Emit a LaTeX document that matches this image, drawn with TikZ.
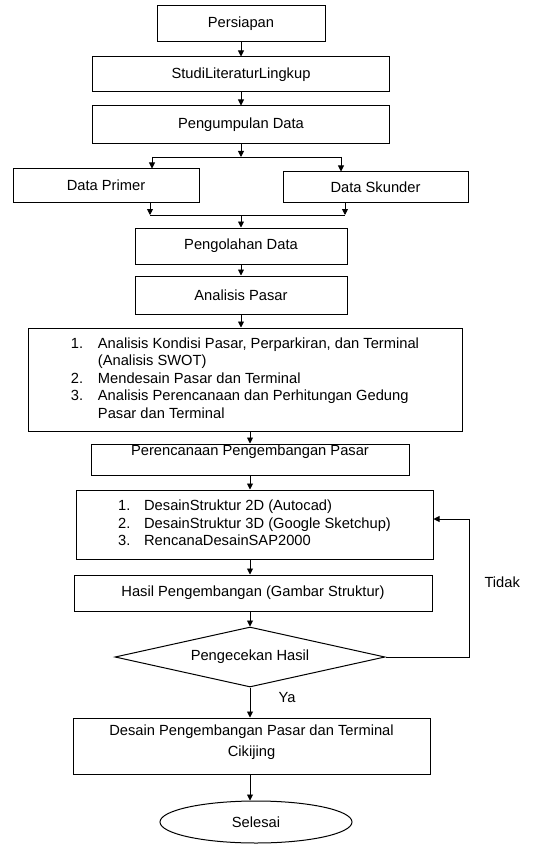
\documentclass[tikz,border=0pt]{standalone}
\usepackage{fontspec}
\setmainfont{Liberation Sans}
\usetikzlibrary{arrows.meta,shapes.geometric}

\begin{document}
\begin{tikzpicture}[
  x=1pt,y=-1pt,
  >={Triangle[length=6pt,width=6pt]},
  every node/.style={font=\fontsize{14.7}{17.5}\selectfont},
  block/.style={draw,line width=1pt,inner sep=0pt,align=center},
  decision/.style={draw,diamond,line width=1pt,inner sep=0pt,aspect=4.5},
  terminator/.style={draw,ellipse,line width=1pt,inner sep=0pt},
  arrow/.style={->,line width=0.9pt},
  link/.style={line width=0.9pt}
]
  \useasboundingbox (0,0) rectangle (554,845);
  \node[block,minimum width=168pt,minimum height=36pt] (persiapan) at (241,24) {Persiapan};
  \node[block,minimum width=297pt,minimum height=35pt] (studi) at (241,74.5) {StudiLiteraturLingkup};
  \node[block,minimum width=297pt,minimum height=38pt] (kumpul) at (241,125) {Pengumpulan Data};
  \node[block,minimum width=186pt,minimum height=33pt] (primer) at (106,185.5) {Data Primer};
  \node[block,minimum width=185pt,minimum height=30pt] (skunder) at (375.5,187) {Data Skunder};
  \node[block,minimum width=212pt,minimum height=36pt] (olah) at (241,246) {Pengolahan Data};
  \node[block,minimum width=212pt,minimum height=38pt] (pasar) at (241,295) {Analisis Pasar};
  \node[block,minimum width=434pt,minimum height=103pt] (analisis) at (245,379.5) {%
    \begin{tabular}{@{}p{27pt}@{}l@{}}
      1. & Analisis Kondisi Pasar, Perparkiran, dan Terminal\\
         & (Analisis SWOT)\\
      2. & Mendesain Pasar dan Terminal\\
      3. & Analisis Perencanaan dan Perhitungan Gedung\\
         & Pasar dan Terminal
    \end{tabular}};
  \node[block,minimum width=318pt,inner ysep=1pt,text height=10.5pt,text depth=18.5pt] (rencana) at (250,459.5) {Perencanaan Pengembangan Pasar};
  \node[block,minimum width=357pt,minimum height=69pt] (desain) at (254.5,524.5) {%
    \begin{tabular}{@{}p{26pt}@{}l@{}}
      1. & DesainStruktur 2D (Autocad)\\
      2. & DesainStruktur 3D (Google Sketchup)\\
      3. & RencanaDesainSAP2000
    \end{tabular}};
  \node[block,minimum width=358pt,minimum height=36pt] (hasil) at (253,593) {Hasil Pengembangan (Gambar Struktur)};
  \node[decision,minimum width=270pt,minimum height=60pt] (cek) at (250,657) {Pengecekan Hasil};
  \node[block,minimum width=357pt,text height=38pt,text depth=18pt] (final) at (251.5,746) {Desain Pengembangan Pasar dan Terminal\\[3pt]Cikijing};
  \node[terminator,minimum width=192pt,minimum height=42pt] (selesai) at (256,822) {Selesai};
  \node[anchor=west] (tidak) at (481,582) {Tidak};
  \node (ya) at (287,698) {Ya};

  % split and join
  \coordinate (split) at (241,157);
  \coordinate (splitL) at (152,157);
  \coordinate (splitR) at (341,157);
  \coordinate (joinL) at (150,215);
  \coordinate (joinR) at (345,215);
  \coordinate (join) at (241,215);
  \coordinate (loop) at (469,519);

  \draw[arrow] (persiapan) -- (studi);
  \draw[arrow] (studi) -- (kumpul);
  \draw[arrow] (kumpul) -- (split);
  \draw[link] (splitL) -- (splitR);
  \draw[arrow] (splitL) -- (splitL |- primer.north);
  \draw[arrow] (splitR) -- (splitR |- skunder.north);
  \draw[arrow] (primer.south -| joinL) -- (joinL);
  \draw[arrow] (skunder.south -| joinR) -- (joinR);
  \draw[link] (joinL) -- (joinR);
  \draw[arrow] (join) -- (olah);
  \draw[arrow] (olah) -- (pasar);
  \draw[arrow] (pasar) -- (pasar |- analisis.north);
  \draw[arrow] (analisis.south -| rencana) -- (rencana);
  \draw[arrow] (rencana) -- (rencana |- desain.north);
  \draw[arrow] (desain.south -| cek.north) -- (hasil.north -| cek.north);
  \draw[arrow] (hasil.south -| cek.north) -- (cek.north);
  \draw[arrow] (cek.east) -| (loop) -- (loop -| desain.east);
  \draw[arrow] (cek.south) -- (final.north -| cek.south);
  \draw[arrow] (final.south -| cek.south) -- (cek.south |- selesai.north);
\end{tikzpicture}
\end{document}
